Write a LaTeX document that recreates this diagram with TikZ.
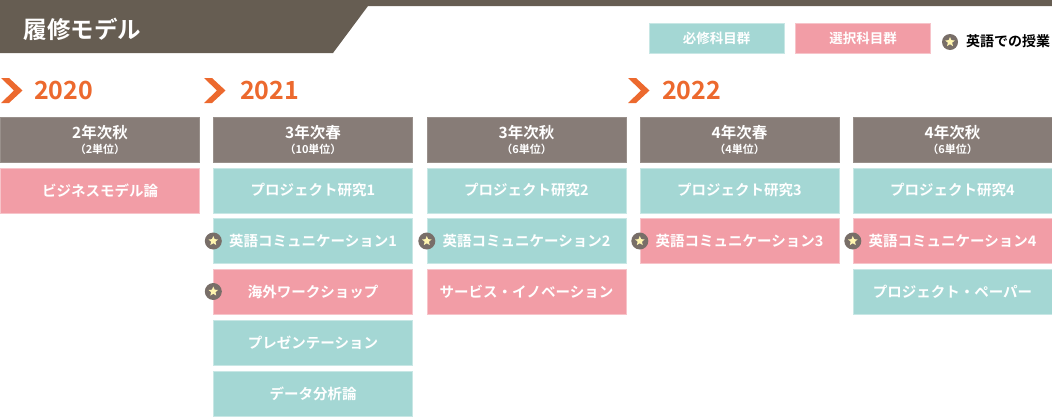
\documentclass[tikz,border=0pt]{standalone}
\usepackage{fontspec}
\setmainfont{Noto Sans CJK JP}[BoldFont={Noto Sans CJK JP Bold}]
\usetikzlibrary{shapes.geometric}
\definecolor{hdark}{RGB}{102,93,82}
\definecolor{hgray}{RGB}{135,124,119}
\definecolor{req}{RGB}{164,215,212}
\definecolor{sel}{RGB}{242,157,166}
\definecolor{yr}{RGB}{236,105,46}
\definecolor{badge}{RGB}{120,110,104}
\definecolor{staryel}{RGB}{255,245,175}
\newcommand{\un}[1]{{\fontsize{11}{12}\selectfont （#1単位）}}

\begin{document}
\begin{tikzpicture}[x=1pt,y=-1pt,
    hnode/.style={fill=hgray, draw=hgray!85!white, minimum width=199pt, minimum height=45pt, inner sep=0pt, text=white, align=center, font=\bfseries\fontsize{15.5}{15}\selectfont},
    rnode/.style={fill=req, draw=req!60!white, minimum width=199pt, minimum height=45pt, inner sep=0pt, text=white, font=\bfseries\fontsize{14.5}{15}\selectfont},
    snode/.style={rnode, fill=sel, draw=sel!60!white},
    enode/.style={circle, fill=badge, minimum size=17pt, inner sep=0pt, label={[star, star points=5, star point ratio=2.2, fill=staryel, minimum size=10pt, inner sep=0pt]center:{}}},
    ynode/.style={text=yr, inner sep=0pt, font=\bfseries\fontsize{25}{25}\selectfont}]
    \useasboundingbox (0,0) rectangle (1052,416);

    % title bar
    \fill[hdark] (0,0) -- (1052,0) -- (1052,6) -- (368,6) -- (333,53) -- (0,53) -- cycle;
    \node (t) at (20,29) [right, text=white, font=\bfseries\fontsize{23.5}{24}\selectfont] {履修モデル};

    % legend
    \node[rnode, minimum width=135pt, minimum height=30pt, font=\bfseries\fontsize{13.5}{14}\selectfont] (lr) at (716.5,38.5) {必修科目群};
    \node[snode, minimum width=135pt, minimum height=30pt, font=\bfseries\fontsize{13.5}{14}\selectfont] (ls) at (863,38.5) {選択科目群};
    \node[enode, minimum size=16pt] (le) at (950,42) {};
    \node (lt) at (966,41) [right, inner sep=0pt, font=\bfseries\fontsize{14}{14}\selectfont] {英語での授業};

    % years
    \fill[yr] (1,78) -- (9,78) -- (22.5,90.5) -- (9,103) -- (1,103) -- (14,90.5) -- cycle;
    \node[ynode] (y0) at (34,90) [right] {2020};
    \fill[yr] (204,78) -- (212,78) -- (225.5,90.5) -- (212,103) -- (204,103) -- (217,90.5) -- cycle;
    \node[ynode] (y1) at (240,90) [right] {2021};
    \fill[yr] (628,78) -- (636,78) -- (649.5,90.5) -- (636,103) -- (628,103) -- (641,90.5) -- cycle;
    \node[ynode] (y2) at (662,90) [right] {2022};

    % terms
    \node[hnode] (c1) at (100,139.5) {2年次秋\\\un{2}};
    \node[hnode] (c2) at (313,139.5) {3年次春\\\un{10}};
    \node[hnode] (c3) at (526.5,139.5) {3年次秋\\\un{6}};
    \node[hnode] (c4) at (739.5,139.5) {4年次春\\\un{4}};
    \node[hnode] (c5) at (952.5,139.5) {4年次秋\\\un{6}};

    % courses
    \node[snode] (b1) at (100,190.5) {ビジネスモデル論};

    \node[rnode] (p1) at (313,190.5) {プロジェクト研究1};
    \node[rnode] (e1) at (313,241) {英語コミュニケーション1};
    \node[snode] (w1) at (313,291.5) {海外ワークショップ};
    \node[rnode] (pr) at (313,342.5) {プレゼンテーション};
    \node[rnode] (da) at (313,393.5) {データ分析論};

    \node[rnode] (p2) at (526.5,190.5) {プロジェクト研究2};
    \node[rnode] (e2) at (526.5,241) {英語コミュニケーション2};
    \node[snode] (si) at (526.5,291.5) {サービス・イノベーション};

    \node[rnode] (p3) at (739.5,190.5) {プロジェクト研究3};
    \node[snode] (e3) at (739.5,241) {英語コミュニケーション3};

    \node[rnode] (p4) at (952.5,190.5) {プロジェクト研究4};
    \node[snode] (e4) at (952.5,241) {英語コミュニケーション4};
    \node[rnode] (pp) at (952.5,291.5) {プロジェクト・ペーパー};

    % english badges
    \node[enode] (s1) at (e1.west) {};
    \node[enode] (s2) at (w1.west) {};
    \node[enode] (s3) at (e2.west) {};
    \node[enode] (s4) at (e3.west) {};
    \node[enode] (s5) at (e4.west) {};
\end{tikzpicture}
\end{document}
